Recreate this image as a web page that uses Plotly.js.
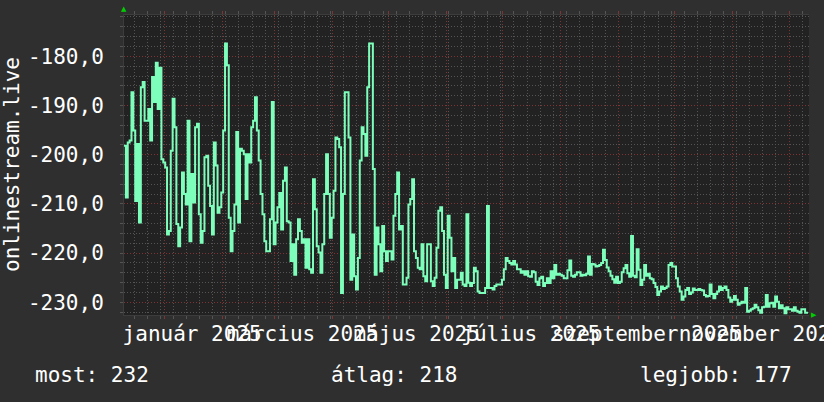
<!DOCTYPE html>
<html>
<head>
<meta charset="utf-8">
<script src="https://cdn.plot.ly/plotly-3.0.1.min.js"></script>
<style>
  html, body { margin: 0; padding: 0; background: #2f2f2f; }
  #chart { width: 824px; height: 402px; }
</style>
</head>
<body>
<div id="chart"></div>
<script>
// ---- data (daily values, negated rank) ----
const startDate = '2024-12-10 14:00';
const endDate = '2025-12-11 16:00';

const rankDecFeb = [
  -198.2, -208.7, -197.5, -197.1, -187.3, -195.1, -209.4, -197.8, -213.8, -186.3,
  -185.2, -193.1, -193.1, -190.7, -197.1, -184.2, -189.3, -181.3, -190.7, -182.3,
  -200.9, -201.6, -202.6, -216.2, -215.5, -199.2, -188.6, -194.4, -214.1, -218.6,
  -214.8, -203.6, -208.0, -210.1, -193.1, -217.6, -203.9, -209.7, -194.4, -193.7,
  -212.1, -217.9, -215.5, -200.5, -200.2, -206.3, -210.4, -216.2, -197.5, -202.2,
  -211.8, -210.7, -207.7, -195.1, -177.4, -181.8, -212.8, -219.6, -215.5, -210.1,
  -195.4, -213.8, -198.8, -199.2, -199.9, -209.0, -199.9, -201.6, -194.4, -193.1,
  -188.3, -195.1, -201.2
];
const rankFebMay = [
  -208.0, -212.1, -217.6, -219.6, -219.6, -213.1, -189.3, -218.2, -213.8, -210.7,
  -207.8, -215.2, -205.3, -202.6, -213.5, -213.8, -221.6, -218.2, -224.4, -217.2,
  -213.1, -215.5, -217.9, -217.2, -223.0, -217.2, -223.3, -224.0, -205.0, -211.1,
  -218.6, -219.9, -224.0, -218.2, -208.0, -199.9, -208.0, -216.9, -212.8, -207.3,
  -196.5, -196.8, -198.5, -228.1, -208.0, -187.3, -187.3, -196.5, -225.4, -216.2,
  -224.7, -227.4, -221.0, -201.2, -194.4, -195.8, -200.2, -186.3, -177.4, -177.4,
  -202.9, -224.4, -214.8, -218.2, -223.7, -214.5, -219.6, -221.6, -219.6, -219.6,
  -221.3, -212.4
];
const rankMayJul = [
  -208.0, -203.6, -215.2, -214.5, -226.4, -226.4, -225.0, -210.1, -209.0, -205.0,
  -219.6, -221.0, -223.0, -223.3, -218.2, -224.7, -225.7, -218.2, -218.2, -225.7,
  -226.7, -225.0, -218.9, -211.4, -210.7, -215.5, -224.4, -227.1, -212.4, -216.9,
  -223.7, -221.0, -227.1, -225.4, -225.4, -224.0, -226.4, -226.7, -212.1, -226.0,
  -226.7, -226.1, -223.0, -223.7, -227.8, -228.1, -228.1, -228.1, -227.1, -210.4,
  -227.1, -227.1, -227.4, -226.7, -226.4, -226.4, -226.4, -225.4, -223.3, -221.0,
  -221.6, -222.0, -222.3, -221.6, -222.3, -223.3, -223.3, -224.0, -223.7, -224.4,
  -223.7, -224.7
];
const rankJulSep = [
  -224.8, -223.7, -223.9, -225.8, -226.5, -225.1, -224.8, -226.7, -226.1, -225.1,
  -226.1, -223.7, -225.1, -222.4, -224.4, -224.2, -224.4, -224.6, -225.1, -225.1,
  -223.5, -221.5, -224.6, -224.8, -224.4, -223.9, -223.9, -224.6, -224.4, -224.5,
  -224.2, -220.7, -224.4, -222.2, -222.3, -222.7, -222.6, -222.4, -222.0, -219.3,
  -221.4, -222.9, -223.7, -224.6, -225.3, -226.0, -224.8, -226.1, -225.8, -223.9,
  -223.1, -222.4, -224.1, -224.8, -216.5, -224.6, -224.9, -219.2, -223.4, -226.5,
  -225.4, -222.4, -224.6, -224.2, -225.1, -225.3, -226.1, -226.9, -228.5, -227.8,
  -226.8, -227.3, -227.1, -226.8, -222.4
];
const rankOctDec = [
  -222.0, -222.7, -222.7, -225.1, -226.8, -227.8, -229.5, -228.8, -227.5, -227.1,
  -228.3, -228.0, -227.2, -227.5, -227.5, -227.3, -227.5, -227.6, -228.5, -228.8,
  -228.7, -226.4, -228.3, -229.2, -228.3, -227.8, -226.8, -227.5, -227.1, -226.8,
  -227.5, -229.0, -229.9, -229.5, -228.7, -229.5, -230.5, -230.2, -229.9, -230.1,
  -227.1, -231.9, -231.7, -231.4, -231.2, -230.5, -231.0, -231.6, -232.1, -231.0,
  -230.9, -228.5, -230.9, -230.2, -230.1, -230.9, -228.8, -229.9, -231.2, -230.6,
  -231.2, -232.2, -231.0, -231.4, -231.4, -231.7, -231.0, -231.7, -231.9, -232.1,
  -231.4, -231.4, -232.1, -231.9
];

const yTickVals = [-230, -220, -210, -200, -190, -180];
const yTickText = ['-230,0', '-220,0', '-210,0', '-200,0', '-190,0', '-180,0'];

const xLabelDates = ['2025-01-16', '2025-03-16', '2025-05-16', '2025-07-16', '2025-09-16', '2025-11-16'];
const xLabelText = ['január 2025', 'március 2025', 'május 2025', 'július 2025', 'szeptember 2025', 'november 2025'];

const yTitle = 'onlinestream.live';
const legendLabels = ['most', 'átlag', 'legjobb'];
const legendValues = [232, 218, 177];

// ---- build ----
const values = [].concat(rankDecFeb, rankFebMay, rankMayJul, rankJulSep, rankOctDec);

const MONO = 'DejaVu Sans Mono';
const RED = '#7d3434';
const GRAY = '#545454';
const DASH = '1px,2px';

const traces = [
  {
    type: 'scatter', mode: 'lines',
    x0: startDate, dx: 86400000,
    y: values,
    xaxis: 'x', yaxis: 'y',
    line: { color: '#7dffbb', width: 2, shape: 'hv' },
    hoverinfo: 'skip'
  },
  { type: 'scatter', mode: 'lines', x: [], y: [], xaxis: 'x2', yaxis: 'y', hoverinfo: 'skip', showlegend: false }
];

const legendX = [33, 329, 638];
const annotations = legendLabels.map((lab, i) => ({
  xref: 'paper', yref: 'paper',
  x: (legendX[i] - 124) / 685, y: -0.2,
  xanchor: 'left', yanchor: 'middle',
  text: lab + ': ' + legendValues[i],
  showarrow: false,
  font: { family: MONO, size: 21, color: '#ffffff' }
}));
annotations.push({
  xref: 'paper', yref: 'paper', x: 0, y: 0.5, xshift: -112,
  xanchor: 'center', yanchor: 'middle', textangle: -90,
  text: yTitle, showarrow: false,
  font: { family: MONO, size: 21, color: '#ffffff' }
});
annotations.push({
  xref: 'paper', yref: 'paper', x: 0, y: 1, yshift: 6,
  xanchor: 'center', yanchor: 'middle', text: '▲', showarrow: false,
  font: { family: 'DejaVu Sans', size: 7, color: '#00cc00' }
});
annotations.push({
  xref: 'paper', yref: 'paper', x: 1, y: 0, xshift: 5,
  xanchor: 'center', yanchor: 'middle', text: '▶', showarrow: false,
  font: { family: 'DejaVu Sans', size: 7, color: '#00cc00' }
});

const layout = {
  width: 824, height: 402,
  margin: { l: 124, r: 15, t: 15, b: 87, pad: 0 },
  paper_bgcolor: '#2f2f2f',
  plot_bgcolor: '#222222',
  showlegend: false,
  xaxis: {
    type: 'date', range: [startDate, endDate], autorange: false,
    tickmode: 'linear', tick0: '2025-01-01', dtick: 'M1',
    showgrid: true, gridcolor: RED, griddash: DASH, gridwidth: 1,
    showticklabels: false, ticks: 'outside', ticklen: 3, tickcolor: RED, mirror: 'ticks',
    zeroline: false, showline: true, linecolor: '#3c3c3c', linewidth: 1,
    minor: { tickmode: 'linear', tick0: '2024-12-16', dtick: 604800000,
      showgrid: true, gridcolor: GRAY, griddash: DASH, gridwidth: 1,
      ticks: 'outside', ticklen: 3, tickcolor: GRAY },
    automargin: false, fixedrange: true
  },
  xaxis2: {
    type: 'date', overlaying: 'x', anchor: 'y', side: 'bottom',
    range: [startDate, endDate], autorange: false,
    tickmode: 'array', tickvals: xLabelDates, ticktext: xLabelText,
    tickangle: 0,
    showgrid: false, ticks: '', zeroline: false, showline: false,
    ticklabeloverflow: 'allow', ticklabelstandoff: 4,
    tickfont: { family: MONO, size: 21, color: '#ffffff' },
    automargin: false, fixedrange: true
  },
  yaxis: {
    range: [-232.58, -171.6], autorange: false,
    tickmode: 'array', tickvals: yTickVals, ticktext: yTickText,
    showgrid: true, gridcolor: RED, griddash: DASH, gridwidth: 1,
    ticks: 'outside', ticklen: 3, tickcolor: GRAY,
    ticklabelstandoff: 12,
    zeroline: false, showline: true, linecolor: '#3c3c3c', linewidth: 1,
    tickfont: { family: MONO, size: 21, color: '#ffffff' },
    minor: { tickmode: 'linear', tick0: 0, dtick: 2,
      showgrid: true, gridcolor: GRAY, griddash: DASH, gridwidth: 1,
      ticks: 'outside', ticklen: 3, tickcolor: GRAY },
    automargin: false, fixedrange: true
  },
  annotations: annotations
};

Plotly.newPlot('chart', traces, layout, { displayModeBar: false, staticPlot: true });
</script>
</body>
</html>
